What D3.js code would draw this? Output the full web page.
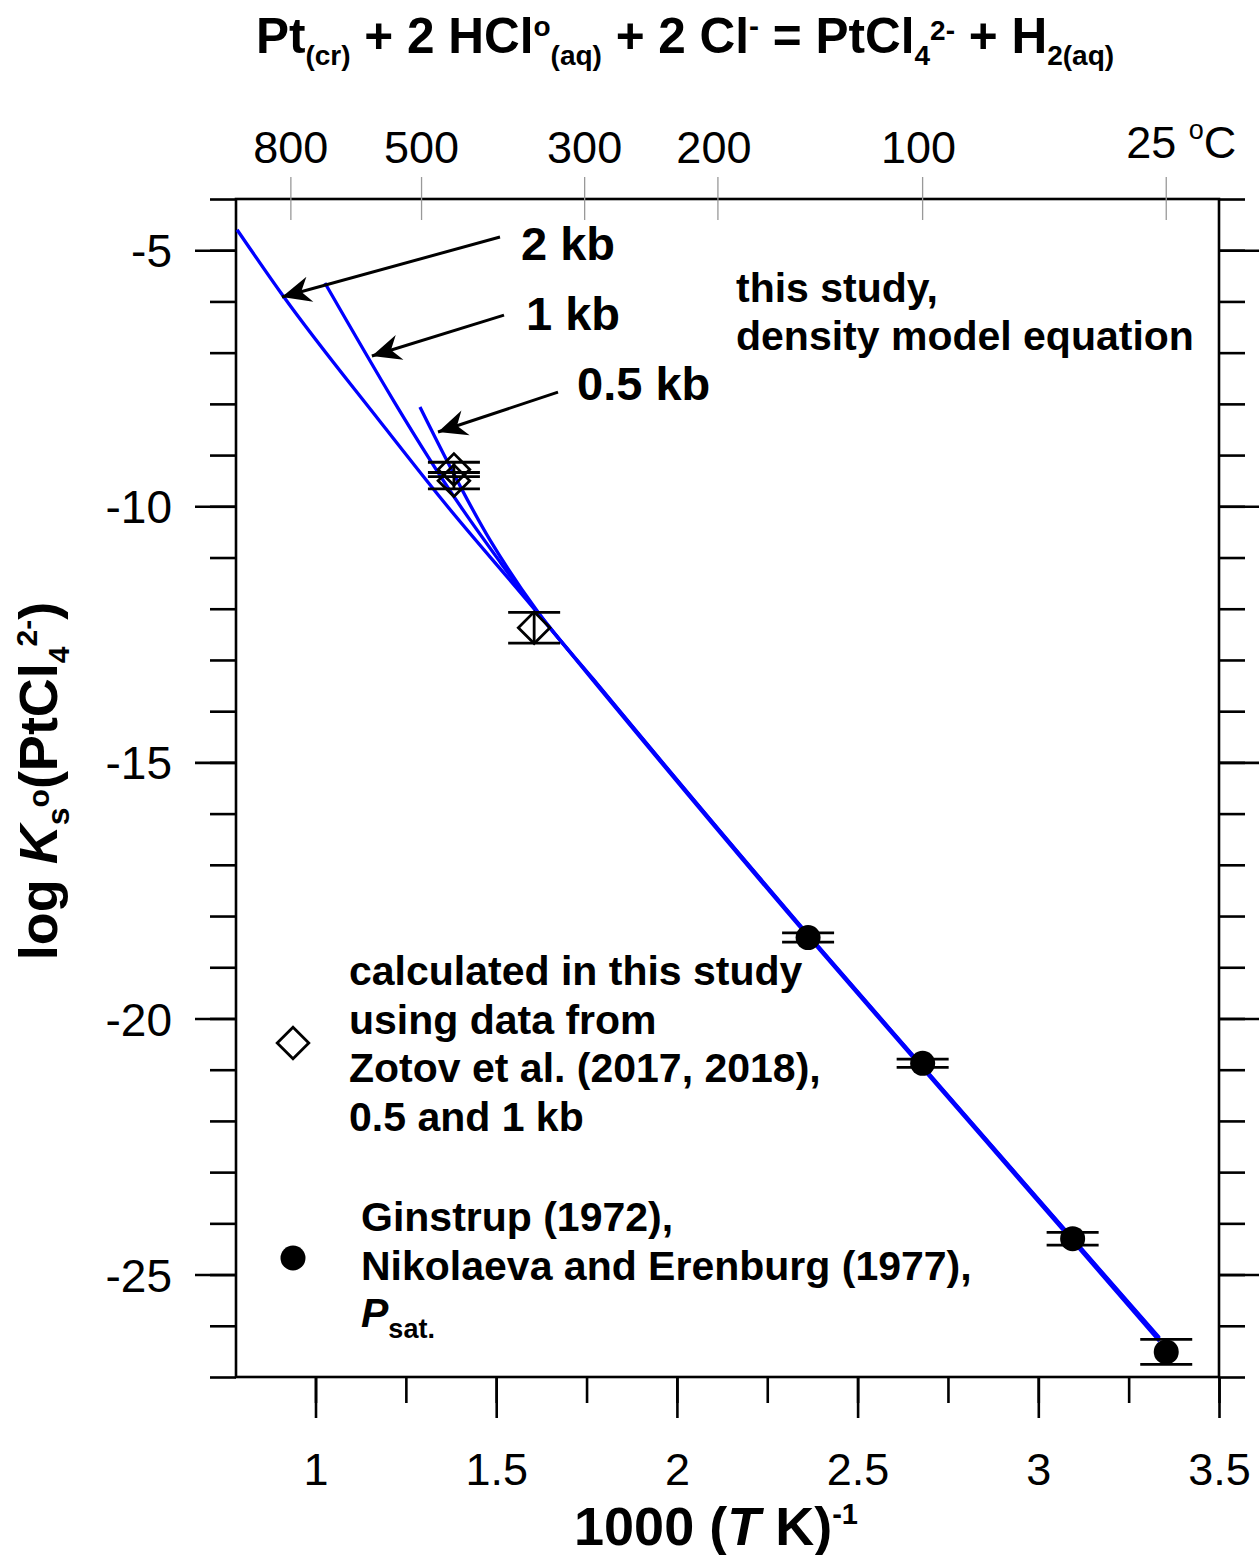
<!DOCTYPE html>
<html><head><meta charset="utf-8">
<script src="https://cdn.jsdelivr.net/npm/d3@7"></script>
<style>
body{margin:0;background:#fff}
svg{font-family:"Liberation Sans",Arial,Helvetica,sans-serif}
</style>
</head><body>
<svg id="chart" width="1260" height="1555"></svg>
<script>
// ---------------- data ----------------
// density model equation lines: [1000/T, log Ks]
const line2kb  = [[0.783,-4.60],[0.910,-5.89],[1.178,-8.34],[1.344,-9.82],[1.613,-12.07],[1.768,-13.40],[2.363,-18.40],[2.678,-20.96],[3.093,-24.33],[3.335,-26.30]];
const line1kb  = [[1.026,-5.64],[1.408,-10.07],[1.510,-11.08],[1.613,-12.06],[1.768,-13.38],[2.363,-18.37],[2.678,-20.93],[3.093,-24.29],[3.335,-26.25]];
const line05kb = [[1.289,-8.06],[1.483,-10.66],[1.613,-12.04],[1.768,-13.37],[2.363,-18.36],[2.678,-20.92],[3.093,-24.28],[3.335,-26.23]];

// Zotov et al. (2017, 2018) derived points
const zotovX   = [1.383, 1.383, 1.605];
const zotovY   = [-9.28, -9.50, -12.37];
const zotovErr = [0.14, 0.16, 0.30];

// Ginstrup (1972), Nikolaeva and Erenburg (1977)
const satX   = [2.363, 2.680, 3.095, 3.354];
const satY   = [-18.42, -20.875, -24.30, -26.51];
const satErr = [0.09, 0.08, 0.125, 0.245];

// axes
const xMajorTicks = [1, 1.5, 2, 2.5, 3, 3.5];
const xMinorTicks = [1, 1.25, 1.5, 1.75, 2, 2.25, 2.5, 2.75, 3, 3.25, 3.5];
const yMajorTicks = [-5, -10, -15, -20, -25];
const yMinorTicks = d3.range(-27, -3);
const topTempsC   = [800, 500, 300, 200, 100, 25];
const topLabels   = ["800", "500", "300", "200", "100", "25"];

// annotation arrows (data coordinates)
const arrowFrom = [[1.5105,-4.742],[1.5216,-6.266],[1.671,-7.77]];
const arrowTo   = [[0.907,-5.914],[1.156,-7.066],[1.339,-8.55]];
const arrowText = ["2 kb", "1 kb", "0.5 kb"];

// ---------------- layout ----------------
const L = 236, T = 199, R = 1219, B = 1377;
const svg = d3.select("#chart");
const x = d3.scaleLinear().domain([0.78, 3.5]).range([L, R]);
const y = d3.scaleLinear().domain([-4, -27]).range([T, B]);
const AX = 2.6;

// helper for rich text with sub/superscripts
function rich(sel, parts, base) {
  let off = 0;
  parts.forEach(p => {
    const ts = sel.append("tspan").text(p.t);
    const target = p.shift || 0;
    ts.attr("dy", target - off);
    off = target;
    ts.attr("font-size", p.size || base);
    if (p.italic) ts.attr("font-style", "italic");
  });
}

// ---------------- axes ----------------
function styleAxis(g) {
  g.select(".domain").remove();
  g.selectAll(".tick line").attr("stroke", "#000").attr("stroke-width", AX);
  g.selectAll("text").attr("fill", "#000");
}
// left
svg.append("g").attr("transform", `translate(${L},0)`)
  .call(d3.axisLeft(y).tickValues(yMinorTicks).tickSize(26).tickFormat("")).call(styleAxis);
const yl = svg.append("g").attr("transform", `translate(${L},0)`)
  .call(d3.axisLeft(y).tickValues(yMajorTicks).tickSize(41).tickPadding(23).tickFormat(d => d))
  .call(styleAxis);
yl.selectAll("text").attr("font-size", 46).attr("dy", "0.36em");
// right
svg.append("g").attr("transform", `translate(${R},0)`)
  .call(d3.axisRight(y).tickValues(yMinorTicks).tickSize(26).tickFormat("")).call(styleAxis);
svg.append("g").attr("transform", `translate(${R},0)`)
  .call(d3.axisRight(y).tickValues(yMajorTicks).tickSize(40).tickFormat("")).call(styleAxis);
// bottom
svg.append("g").attr("transform", `translate(0,${B})`)
  .call(d3.axisBottom(x).tickValues(xMinorTicks).tickSize(26).tickFormat("")).call(styleAxis);
const xb = svg.append("g").attr("transform", `translate(0,${B})`)
  .call(d3.axisBottom(x).tickValues(xMajorTicks).tickSize(41).tickFormat(d => d))
  .call(styleAxis);
xb.selectAll("text").attr("font-size", 45).attr("y", 108).attr("dy", 0);

// frame
svg.append("rect").attr("x", L).attr("y", T).attr("width", R - L).attr("height", B - T)
  .attr("fill", "none").attr("stroke", "#000").attr("stroke-width", AX);

// top temperature axis
const topG = svg.append("g");
topTempsC.forEach((tc, i) => {
  const xv = x(1000 / (tc + 273.15));
  topG.append("line").attr("x1", xv).attr("x2", xv).attr("y1", T - 22).attr("y2", T + 21)
    .attr("stroke", "#999").attr("stroke-width", 1.3);
  if (tc === 25) {
    const t = topG.append("text").attr("x", xv - 40).attr("y", 158).attr("font-size", 45);
    rich(t, [{t: "25 "}, {t: "o", size: 27, shift: -19}, {t: "C", shift: 0}], 45);
  } else {
    topG.append("text").attr("x", xv - (tc <= 200 ? 4 : 0)).attr("y", 163).attr("text-anchor", "middle")
      .attr("font-size", 45).text(topLabels[i]);
  }
});

// ---------------- lines ----------------
const lineGen = d3.line().x(d => x(d[0])).y(d => y(d[1])).curve(d3.curveMonotoneX);
[line2kb, line1kb, line05kb].forEach(ln => {
  svg.append("path").datum(ln).attr("d", lineGen)
    .attr("fill", "none").attr("stroke", "#0000ff").attr("stroke-width", 3.3);
});

// ---------------- error bars & markers ----------------
function errBar(xv, yv, e) {
  const g = svg.append("g").attr("stroke", "#000").attr("stroke-width", 2.8);
  g.append("line").attr("x1", x(xv)).attr("x2", x(xv)).attr("y1", y(yv + e)).attr("y2", y(yv - e));
  g.append("line").attr("x1", x(xv) - 26).attr("x2", x(xv) + 26).attr("y1", y(yv + e)).attr("y2", y(yv + e));
  g.append("line").attr("x1", x(xv) - 26).attr("x2", x(xv) + 26).attr("y1", y(yv - e)).attr("y2", y(yv - e));
}
zotovX.forEach((xv, i) => errBar(xv, zotovY[i], zotovErr[i]));
satX.forEach((xv, i) => errBar(xv, satY[i], satErr[i]));

const diamond = d3.symbol(d3.symbolSquare, 500);
zotovX.forEach((xv, i) => {
  svg.append("path").attr("d", diamond())
    .attr("transform", `translate(${x(xv)},${y(zotovY[i])}) rotate(45)`)
    .attr("fill", "none").attr("stroke", "#000").attr("stroke-width", 2.8);
});
satX.forEach((xv, i) => {
  svg.append("circle").attr("cx", x(xv)).attr("cy", y(satY[i])).attr("r", 12.5).attr("fill", "#000");
});

// ---------------- arrows ----------------
svg.append("defs").append("marker").attr("id", "ah")
  .attr("viewBox", "-32 -16 34 32").attr("refX", 0).attr("refY", 0)
  .attr("markerWidth", 34).attr("markerHeight", 32).attr("markerUnits", "userSpaceOnUse")
  .attr("orient", "auto")
  .append("path").attr("d", "M0,0 L-29,-13 L-20,0 L-29,13 Z").attr("fill", "#000");
arrowFrom.forEach((f, i) => {
  svg.append("line").attr("x1", x(f[0])).attr("y1", y(f[1]))
    .attr("x2", x(arrowTo[i][0])).attr("y2", y(arrowTo[i][1]))
    .attr("stroke", "#000").attr("stroke-width", 3).attr("marker-end", "url(#ah)");
});
const labPos = [[521, 260], [526, 330], [577, 400]];
arrowText.forEach((t, i) => {
  svg.append("text").attr("x", labPos[i][0]).attr("y", labPos[i][1])
    .attr("font-size", 47).attr("font-weight", "bold").text(t);
});

// ---------------- texts ----------------
svg.append("text").attr("x", 736).attr("y", 302).attr("font-size", 41).attr("font-weight", "bold").text("this study,");
svg.append("text").attr("x", 736).attr("y", 350).attr("font-size", 41).attr("font-weight", "bold").text("density model equation");

// legend
svg.append("path").attr("d", diamond()).attr("transform", "translate(293,1043) rotate(45)")
  .attr("fill", "none").attr("stroke", "#000").attr("stroke-width", 2.8);
["calculated in this study", "using data from", "Zotov et al. (2017, 2018),", "0.5 and 1 kb"].forEach((t, i) => {
  svg.append("text").attr("x", 349).attr("y", 985 + i * 48.5).attr("font-size", 41).attr("font-weight", "bold").text(t);
});
svg.append("circle").attr("cx", 293).attr("cy", 1258).attr("r", 12.5).attr("fill", "#000");
["Ginstrup (1972),", "Nikolaeva and Erenburg (1977),"].forEach((t, i) => {
  svg.append("text").attr("x", 361).attr("y", 1231 + i * 48.5).attr("font-size", 41).attr("font-weight", "bold").text(t);
});
const ps = svg.append("text").attr("x", 361).attr("y", 1327).attr("font-size", 41).attr("font-weight", "bold");
rich(ps, [{t: "P", italic: true}, {t: "sat.", size: 27, shift: 11}], 41);

// title
const title = svg.append("text").attr("x", 685).attr("y", 53).attr("text-anchor", "middle")
  .attr("font-size", 49.5).attr("font-weight", "bold");
rich(title, [
  {t: "Pt"}, {t: "(cr)", size: 28, shift: 12}, {t: " + 2 HCl", shift: 0},
  {t: "o", size: 28, shift: -17}, {t: "(aq)", size: 28, shift: 12}, {t: " + 2 Cl", shift: 0},
  {t: "-", size: 30, shift: -17}, {t: " = PtCl", shift: 0}, {t: "4", size: 28, shift: 12},
  {t: "2-", size: 28, shift: -13}, {t: " + H", shift: 0}, {t: "2(aq)", size: 28, shift: 12}
], 49.5);

// x axis title
const xt = svg.append("text").attr("x", 716).attr("y", 1545).attr("text-anchor", "middle")
  .attr("font-size", 54).attr("font-weight", "bold");
rich(xt, [{t: "1000 ("}, {t: "T", italic: true}, {t: " K)"}, {t: "-1", size: 29, shift: -21}], 54);

// y axis title
const yt = svg.append("text").attr("transform", "translate(57,781) rotate(-90)").attr("text-anchor", "middle")
  .attr("font-size", 54).attr("font-weight", "bold");
rich(yt, [{t: "log "}, {t: "K", italic: true}, {t: "s", size: 32, shift: 12}, {t: "o", size: 30, shift: -8},
  {t: "(PtCl", shift: 0}, {t: "4", size: 30, shift: 12}, {t: "2-", size: 30, shift: -20}, {t: ")", shift: 0}], 54);
</script>
</body></html>
